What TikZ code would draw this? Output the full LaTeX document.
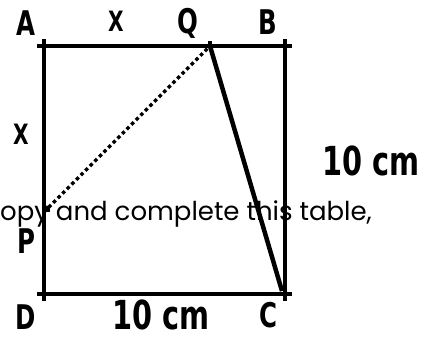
\documentclass[tikz,border=0pt]{standalone}
\usepackage{fontspec}
\usepackage{graphicx}
\setmainfont{Poppins}
\newfontfamily\pixfont{DejaVu Sans}
\usetikzlibrary{positioning}
\newcommand{\pix}[1]{\scalebox{0.72}[1]{\pixfont\bfseries #1}}

\begin{document}
\begin{tikzpicture}[x=1pt, y=-1pt,
        side/.style={line width=4pt},
        dotline/.style={line width=3.5pt, dash pattern=on 3.5pt off 3pt},
        slant/.style={line width=4.5pt},
        lbl/.style={inner sep=0pt, font=\fontsize{34}{34}\selectfont},
        small/.style={inner sep=0pt, font=\fontsize{28}{28}\selectfont},
        big/.style={inner sep=0pt, font=\fontsize{40}{40}\selectfont}
    ]
        \useasboundingbox (0,0) rectangle (437,338);

        % the clipped line of text behind the figure
        \node[anchor=base west, inner sep=0pt, font=\fontsize{26}{26}\selectfont]
            (txt) at (0,220) {opy and complete this table,};

        % corners and points
        \coordinate (A) at (44,46);
        \coordinate (B) at (285,46);
        \coordinate (C) at (285,294);
        \coordinate (D) at (44,294);
        \coordinate (Q) at (210,46);
        \coordinate (P) at (44,212);
        \coordinate (Cq) at (282,291);

        % square
        \draw[side] ([xshift=-7pt]A) -- ([xshift=7pt]B);
        \draw[side] ([xshift=-7pt]D) -- ([xshift=7pt]C);
        \draw[side] ([yshift=7pt]A) -- ([yshift=-7pt]D);
        \draw[side] ([yshift=7pt]B) -- ([yshift=-7pt]C);
        \draw[side] (Q) -- ([yshift=5pt]Q);

        % inner lines
        \draw[dotline] (P) -- (Q);
        \draw[slant] (Q) -- (Cq);
        \fill (P) rectangle ++(6,-6);

        % labels
        \node[lbl] (la) at (26,23) {\pix{A}};
        \node[small] (lx) at (116,21) {\pix{X}};
        \node[lbl] (lq) at (188,23) {\pix{Q}};
        \node[lbl] (lb) at (268,22) {\pix{B}};
        \node[small] (ly) at (21,134) {\pix{X}};
        \node[lbl] (lp) at (26,241) {\pix{P}};
        \node[lbl] (ld) at (26,317) {\pix{D}};
        \node[lbl] (lc) at (268,315) {\pix{C}};
        \node[big] (side1) at (371,161) {\pix{10 cm}};
        \node[big] (side2) at (161,315) {\pix{10 cm}};
    \end{tikzpicture}
\end{document}
